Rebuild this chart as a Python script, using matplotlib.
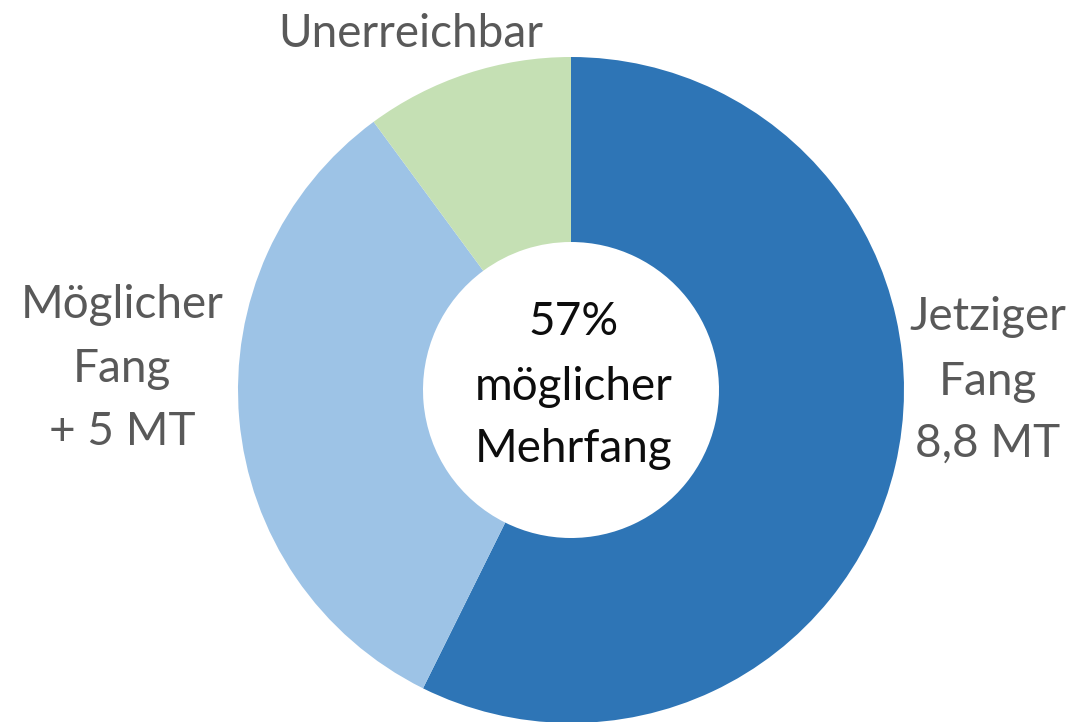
import matplotlib
matplotlib.use("Agg")
import matplotlib.pyplot as plt

# Anteile am Gesamtfang (Mio. t)
segmente = ["Jetziger Fang", "Möglicher Fang", "Unerreichbar"]
werte = [8.8, 5.0, 1.55]
farben = ["#2E75B6", "#9DC3E6", "#C5E0B4"]

# Beschriftungen: (Zeilen, x, Grundlinien y) in Pixeln von oben
beschriftungen = [
    (["Unerreichbar"], 411, [47]),
    (["Möglicher", "Fang", "+ 5 MT"], 122, [318, 382, 445]),
    (["Jetziger", "Fang", "8,8 MT"], 988, [330, 395, 457]),
]
mitte_text = ["57%", "möglicher", "Mehrfang"]
mitte_y = [335, 400, 462]

B, H = 1075, 722
fig = plt.figure(figsize=(B / 100, H / 100), dpi=100)
ax = fig.add_axes([0, 0, 1, 1])

zentrum = (571, H - 390)
radius = 333
ax.pie(werte, colors=farben, startangle=90, counterclock=False,
       center=zentrum, radius=radius,
       wedgeprops=dict(width=185, linewidth=0))
ax.set_xlim(0, B)
ax.set_ylim(0, H)
ax.set_aspect("equal")
ax.axis("off")

for zeilen, x, ys in beschriftungen:
    for z, y in zip(zeilen, ys):
        ax.text(x, H - y, z, ha="center", va="baseline", fontsize=33,
                family="Lato", color="#595959")

for z, y in zip(mitte_text, mitte_y):
    ax.text(574, H - y, z, ha="center", va="baseline", fontsize=33,
            family="Lato", color="#0D0D0D")

fig.savefig("out.png", dpi=100)
